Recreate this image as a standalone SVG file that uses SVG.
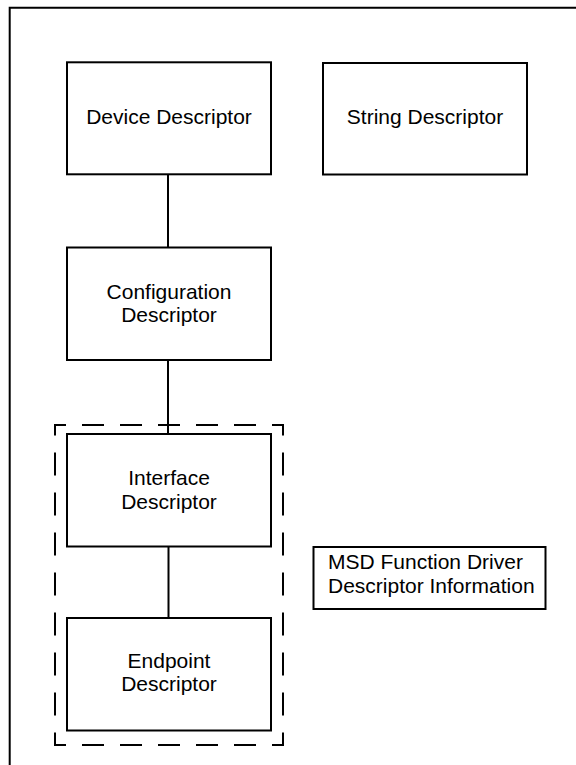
<svg xmlns="http://www.w3.org/2000/svg" width="576" height="765" viewBox="0 0 576 765">
<style>
.box{fill:#fff;stroke:#000;stroke-width:2}
.ln{fill:none;stroke:#000;stroke-width:2}
.t{font-family:"Liberation Sans",Arial,sans-serif;font-size:21px;fill:#000;text-anchor:middle}
.tl{font-family:"Liberation Sans",Arial,sans-serif;font-size:21px;fill:#000}
</style>
<rect width="576" height="765" fill="#fff"/>
<path class="ln" d="M9.7 770 V7.7 H580"/>
<g id="connectors">
<line class="ln" x1="168" y1="174.3" x2="168" y2="248"/>
<line class="ln" x1="168" y1="360" x2="168" y2="434"/>
<line class="ln" x1="168.5" y1="546.5" x2="168.5" y2="618"/>
</g>
<g id="msd-group">
<line class="ln" x1="55" y1="425" x2="283" y2="425" stroke-dasharray="22 16" stroke-dashoffset="11"/>
<line class="ln" x1="55" y1="745" x2="283" y2="745" stroke-dasharray="22 16" stroke-dashoffset="11"/>
<line class="ln" x1="55" y1="424" x2="55" y2="746" stroke-dasharray="23 17" stroke-dashoffset="11.5"/>
<line class="ln" x1="283" y1="424" x2="283" y2="746" stroke-dasharray="23 17" stroke-dashoffset="11.5"/>
</g>
<g id="device">
<rect class="box" x="67" y="62.3" width="204" height="112"/>
<text class="t" x="169" y="123.5">Device Descriptor</text>
</g>
<g id="string">
<rect class="box" x="323" y="63" width="204" height="111.5"/>
<text class="t" x="425" y="123.5">String Descriptor</text>
</g>
<g id="configuration">
<rect class="box" x="67" y="247.5" width="204" height="112.5"/>
<text class="t" x="169" y="298.5">Configuration</text>
<text class="t" x="169" y="322">Descriptor</text>
</g>
<g id="interface">
<rect class="box" x="67" y="434" width="204" height="112.5"/>
<text class="t" x="169" y="485">Interface</text>
<text class="t" x="169" y="509">Descriptor</text>
</g>
<g id="endpoint">
<rect class="box" x="67" y="618" width="204" height="112.5"/>
<text class="t" x="169" y="667.5">Endpoint</text>
<text class="t" x="169" y="691">Descriptor</text>
</g>
<g id="msd-label">
<rect class="box" x="313.5" y="547" width="232" height="62"/>
<text class="tl" x="328" y="569">MSD Function Driver</text>
<text class="tl" x="328" y="593">Descriptor Information</text>
</g>
</svg>
